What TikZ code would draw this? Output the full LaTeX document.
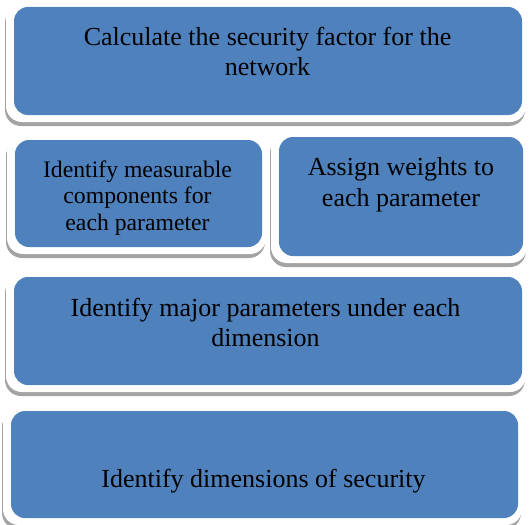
\documentclass[tikz,border=0pt]{standalone}
\usepackage{fontspec}
\setmainfont{Liberation Serif}
\definecolor{blockblue}{RGB}{79,129,189}
\definecolor{shadowgray}{RGB}{163,163,163}
\begin{document}
\begin{tikzpicture}[%
                x=1pt, y=-1pt,
                shadowbox/.style={fill=shadowgray, rounded corners=16pt},
                framebox/.style={fill=white, rounded corners=16pt},
                blockbox/.style={fill=blockblue, rounded corners=14pt},
                blocktext/.style={align=center, inner sep=0pt, anchor=base,
                        font=\fontsize{26}{30}\selectfont}
        ]
            \useasboundingbox (0,0) rectangle (529,524);
            \foreach \xa/\ya/\xb/\yb in {14/7/522/115, 15/140/262/247,
                        279/137/523/256, 14/277/522/385, 11/411/518/518} {
                \fill [shadowbox] (\xa-9,\ya) rectangle (\xb+3,\yb+11);
                \fill [framebox] (\xa-8,\ya-4) rectangle (\xb+4,\yb+7);
                \fill [blockbox] (\xa,\ya) rectangle (\xb,\yb);
            }
            % base anchor sits on the last line
            \node [blocktext] (calc) at (267.5,76)
                {Calculate the security factor for the\\network};
            \begin{scope}
                \clip (0,0) rectangle (529,234);
                \node [blocktext, font=\fontsize{23.7}{26.5}\selectfont] (measure)
                    at (137.5,230) {Identify measurable\\components for\\each parameter};
            \end{scope}
            \node [blocktext, font=\fontsize{26}{31.5}\selectfont] (weights)
                at (401,206.5) {Assign weights to\\each parameter};
            \node [blocktext] (params) at (265.5,346)
                {Identify major parameters under each\\dimension};
            \node [blocktext] (dims) at (263.5,487) {Identify dimensions of security};
        \end{tikzpicture}
\end{document}
